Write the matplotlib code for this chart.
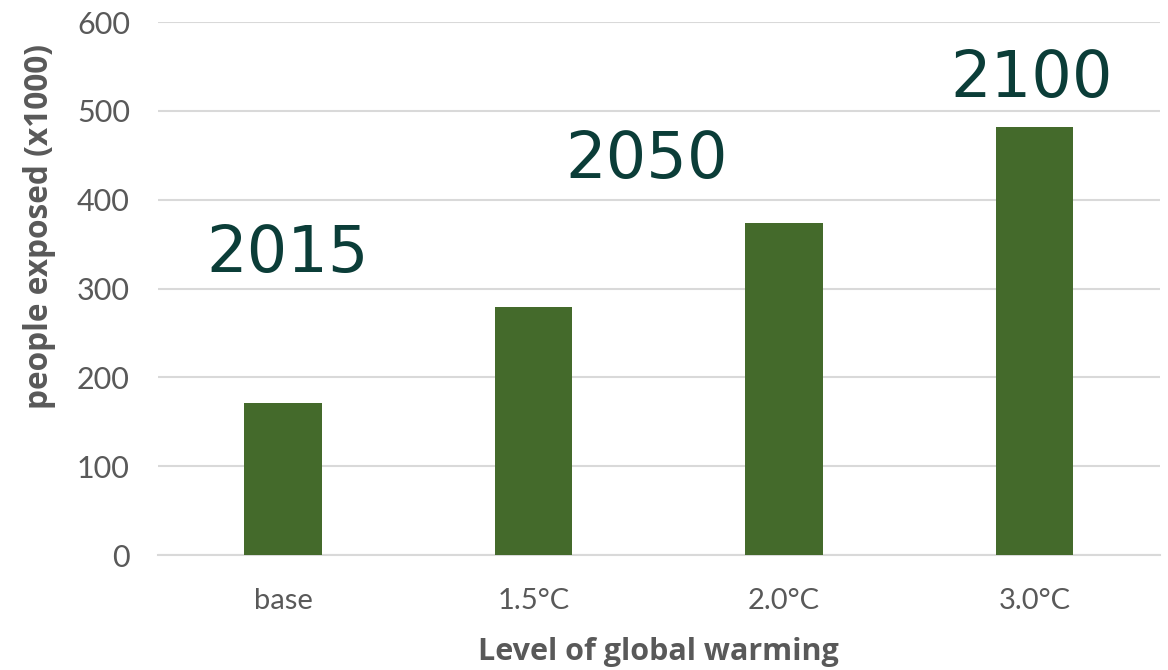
import matplotlib.pyplot as plt

# Chart data
categories = ['base', '1.5°C', '2.0°C', '3.0°C']
people_exposed = [171, 279, 374, 482]
year_labels = ['2015', '2050', '2100']
year_x = [0.02, 1.45, 2.99]
year_y = [319, 425, 516]
y_ticks = [0, 100, 200, 300, 400, 500, 600]

plt.rcParams['font.family'] = ['Lato', 'DejaVu Sans']
label_font = ['Open Sans', 'DejaVu Sans']

fig = plt.figure(figsize=(11.68, 6.70), dpi=100)
ax = fig.add_axes([0.135, 0.1716, 0.858, 0.7954])

x = range(len(categories))
ax.bar(x, people_exposed, width=0.31, color='#446A2B', zorder=3)

ax.set_xlim(-0.5, 3.5)
ax.set_ylim(0, 600)
ax.set_yticks(y_ticks)
ax.set_xticks(list(x))
ax.set_xticklabels(categories)
ax.tick_params(axis='x', length=0, labelsize=21, colors='#595959', pad=24)
ax.tick_params(axis='y', length=0, labelsize=22, colors='#595959', pad=20)

ax.grid(axis='y', color='#D9D9D9', linewidth=1.5, zorder=0)
for side in ['top', 'right', 'left']:
    ax.spines[side].set_visible(False)
ax.spines['bottom'].set_color('#D9D9D9')
ax.spines['bottom'].set_linewidth(1.5)

ax.set_ylabel('people exposed (x1000)', fontsize=22.8, fontweight='bold',
              color='#595959', family=label_font)
ax.yaxis.set_label_coords(-0.101, 0.617)
ax.set_xlabel('Level of global warming', fontsize=22, fontweight='bold',
              color='#595959', labelpad=16, family=label_font)

# Year annotations
for label, xx, yy in zip(year_labels, year_x, year_y):
    ax.text(xx, yy, label, fontsize=46, color='#0B3D38', ha='center',
            va='baseline', family='DejaVu Sans', zorder=4)

plt.savefig('out.png', dpi=100)
plt.close(fig)
